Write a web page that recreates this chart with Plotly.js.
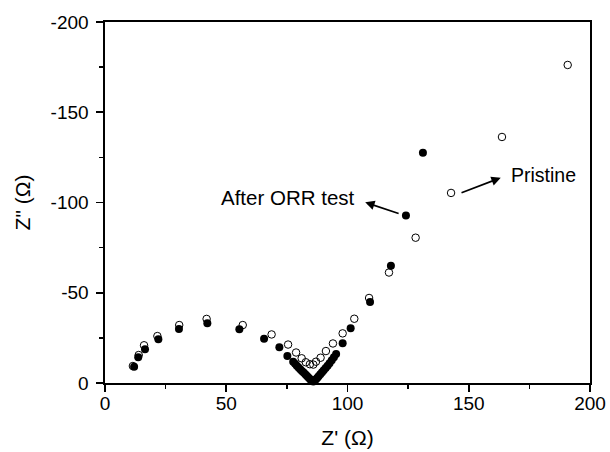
<!DOCTYPE html>
<html>
<head>
<meta charset="utf-8">
<script src="https://cdn.plot.ly/plotly-3.0.1.min.js"></script>
<style>html,body{margin:0;padding:0;background:#fff;}#chart{width:610px;height:452px;}</style>
</head>
<body>
<div id="chart"></div>
<script>
// Pristine (open circles): Z' and Z'' in ohm
const pristineZre = [11.5, 13.9, 16.1, 21.6, 30.6, 41.9, 56.8, 68.7, 75.5, 78.8, 81.1, 82.8, 84.5, 85.9, 87.0, 88.9, 91.1, 94.0, 98.0, 102.8, 108.9, 117.1, 128.1, 142.7, 163.7, 190.8];
const pristineZim = [-9.4, -15.5, -20.9, -26.0, -32.1, -35.5, -32.1, -26.9, -21.3, -16.9, -13.7, -11.5, -10.4, -10.2, -11.8, -14.0, -17.7, -21.9, -27.5, -35.6, -47.1, -61.2, -80.5, -105.3, -136.3, -176.2];

// After ORR test (filled circles)
const orrZre = [12.0, 13.7, 16.5, 22.0, 30.5, 42.2, 55.4, 65.6, 71.9, 75.2,
  77.6, 78.4, 79.1, 79.8, 80.5, 81.2, 81.9, 82.6, 83.2, 83.8, 84.4, 84.9, 85.4, 85.9,
  86.4, 86.9, 87.5, 88.1, 88.8, 89.5, 90.2, 91.0, 91.8, 92.6, 93.5, 94.4, 95.3,
  98.0, 101.3, 109.3, 117.9, 124.1, 131.1];
const orrZim = [-9.0, -14.2, -18.7, -24.2, -29.9, -33.1, -29.8, -24.5, -19.8, -15.0,
  -11.8, -10.6, -9.6, -8.6, -7.6, -6.7, -5.8, -4.9, -4.0, -3.2, -2.4, -1.7, -1.1, -0.8,
  -1.2, -1.9, -2.8, -3.7, -4.8, -5.9, -7.0, -8.3, -9.6, -11.0, -12.6, -14.3, -16.1,
  -22.0, -30.3, -44.9, -65.0, -92.8, -127.6];

const xTickVals = [0, 50, 100, 150, 200];
const xTickText = ['0', '50', '100', '150', '200'];
const xMinorVals = [25, 75, 125, 175];
const yTickVals = [0, -50, -100, -150, -200];
const yTickText = ['0', '-50', '-100', '-150', '-200'];
const yMinorVals = [-25, -75, -125, -175];

const FONT = 'Liberation Sans, Arial, sans-serif';

const traces = [
  {
    x: orrZre, y: orrZim, mode: 'markers', type: 'scatter', name: 'After ORR test',
    marker: {symbol: 'circle', size: 8, color: '#000000', line: {width: 0}},
    showlegend: false, cliponaxis: false
  },
  {
    x: pristineZre, y: pristineZim, mode: 'markers', type: 'scatter', name: 'Pristine',
    marker: {symbol: 'circle-open', size: 7.5, color: '#000000', line: {width: 1}},
    showlegend: false, cliponaxis: false
  }
];

const axisCommon = {
  showgrid: false, zeroline: false, showline: true, linecolor: '#000', linewidth: 1.6,
  mirror: true, ticks: 'outside', ticklen: 7, tickwidth: 1.6, tickcolor: '#000',
  tickfont: {family: FONT, size: 19, color: '#000'}, tickmode: 'array', autorange: false
};

const layout = {
  width: 610, height: 452,
  margin: {l: 105, r: 20, t: 22, b: 69},
  paper_bgcolor: '#fff', plot_bgcolor: '#fff',
  xaxis: Object.assign({}, axisCommon, {
    range: [0, 200], tickvals: xTickVals, ticktext: xTickText, ticklabelstandoff: -4,
    minor: {tickmode: 'array', tickvals: xMinorVals, ticks: 'outside', ticklen: 4, tickwidth: 1.4, tickcolor: '#000'},
    title: {text: "Z' (Ω)", font: {family: FONT, size: 21, color: '#000'}, standoff: 17}
  }),
  yaxis: Object.assign({}, axisCommon, {
    range: [0, -200], tickvals: yTickVals, ticktext: yTickText, ticklabelstandoff: 4,
    minor: {tickmode: 'array', tickvals: yMinorVals, ticks: 'outside', ticklen: 4, tickwidth: 1.4, tickcolor: '#000'},
    title: {text: 'Z" (Ω)', font: {family: FONT, size: 21, color: '#000'}, standoff: 14}
  }),
  annotations: [
    {x: 107.3, y: -100.1, ax: 121.7, ay: -93.6, axref: 'x', ayref: 'y', xref: 'x', yref: 'y',
     text: '', showarrow: true, arrowhead: 2, arrowsize: 1.1, arrowwidth: 1.7, arrowcolor: '#000'},
    {x: 104.0, y: -102.7, xref: 'x', yref: 'y', text: 'After ORR test', showarrow: false,
     xanchor: 'right', yanchor: 'middle', font: {family: FONT, size: 20.5, color: '#000'}},
    {x: 163.2, y: -113.7, ax: 146.4, ay: -105.1, axref: 'x', ayref: 'y', xref: 'x', yref: 'y',
     text: '', showarrow: true, arrowhead: 2, arrowsize: 1.1, arrowwidth: 1.7, arrowcolor: '#000'},
    {x: 166.4, y: -115.2, xref: 'x', yref: 'y', text: 'Pristine', showarrow: false,
     xanchor: 'left', yanchor: 'middle', font: {family: FONT, size: 19.5, color: '#000'}}
  ]
};

Plotly.newPlot('chart', traces, layout, {staticPlot: true, displayModeBar: false});
</script>
</body>
</html>
